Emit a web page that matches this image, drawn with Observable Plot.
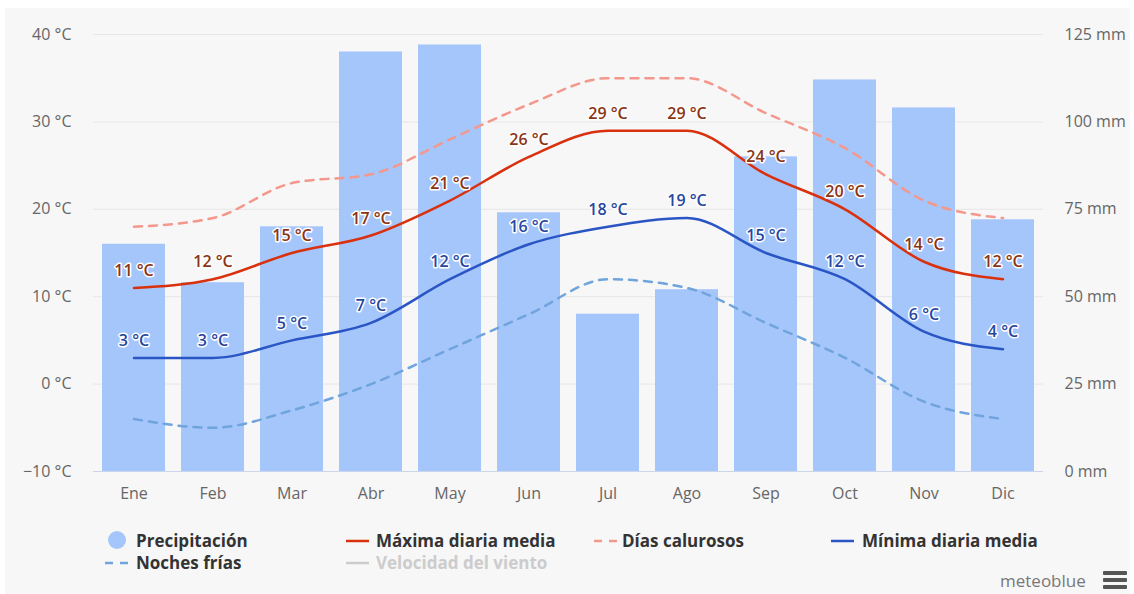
<!DOCTYPE html>
<html><head><meta charset="utf-8">
<script src="https://cdn.jsdelivr.net/npm/d3@7"></script>
<script src="https://cdn.jsdelivr.net/npm/@observablehq/plot@0.6"></script>
<style>
body{margin:0;background:#fff;font-family:"Open Sans","Noto Sans",sans-serif;}
#wrap{position:relative;width:1134px;height:594px;background:#fff;overflow:hidden}
#panel{position:absolute;left:5px;top:8px;width:1125px;height:586px;background:#f7f7f7}
#chart{position:absolute;left:0;top:0}
.lg{position:absolute;font-size:17px;font-weight:700;color:#333;line-height:20px;white-space:nowrap}
.sym{position:absolute}
#brand{position:absolute;left:1000px;top:570px;font-size:17px;color:#777;line-height:22px}
.hb{position:absolute;left:1103px;width:24px;height:4px;background:#555;border-radius:1px}
</style></head>
<body>
<div id="wrap">
  <div id="panel"></div>
  <div id="chart"></div>
  <div id="legend"></div>
  <div id="brand">meteoblue</div>
  <div class="hb" style="top:571px"></div>
  <div class="hb" style="top:578px"></div>
  <div class="hb" style="top:585px"></div>
</div>
<script>
const months = ["Ene","Feb","Mar","Abr","May","Jun","Jul","Ago","Sep","Oct","Nov","Dic"];
const precipitation = [65,54,70,120,122,74,45,52,90,112,104,72];   // mm
const maxTemp = [11,12,15,17,21,26,29,29,24,20,14,12];               // Máxima diaria media
const minTemp = [3,3,5,7,12,16,18,19,15,12,6,4];                      // Mínima diaria media
const hotDays = [18,19,23,24,28,32,35,35,31,27,21,19];                // Días calurosos
const coldNights = [-4,-5,-3,0,4,8,12,11,7,3,-2,-4];                  // Noches frías
const tempTicks = [-10,0,10,20,30,40];
const mmTicks = [0,25,50,75,100,125];

const data = months.map((m,i)=>({month:m, precip:precipitation[i], max:maxTemp[i], min:minTemp[i], hot:hotDays[i], cold:coldNights[i]}));
// map mm (0..125) onto the temperature scale (-10..40)
const mmToT = mm => -10 + mm * 50 / 125;
const tToMm = t => (t + 10) * 125 / 50;
const fmtT = d => (d < 0 ? "\u2212" + Math.abs(d) : d) + " °C";

const C = {bar:"#a5c6fb", max:"#d9300e", hot:"#f4978c", min:"#2a55c4", cold:"#6fa4dc",
           maxLbl:"#8a3414", minLbl:"#27479f"};

const chart = Plot.plot({
  width:1134, height:510,
  marginLeft:93, marginRight:91, marginTop:34, marginBottom:39,
  x:{domain:months, paddingInner:0.2, paddingOuter:0.1, axis:null},
  y:{domain:[-10,40], axis:null},
  style:{background:"transparent", fontFamily:"'Open Sans','Noto Sans',sans-serif"},
  marks:[
    Plot.ruleY(tempTicks, {stroke:"#e6e6e6", strokeWidth:1}),
    Plot.barY(data, {x:"month", y1:-10, y2:d=>mmToT(d.precip), fill:C.bar}),
    Plot.ruleY([-10], {stroke:"#ccd6eb", strokeWidth:1}),
    Plot.line(data, {x:"month", y:"hot", stroke:C.hot, strokeWidth:2.5, strokeDasharray:"8,7", curve:"monotone-x"}),
    Plot.line(data, {x:"month", y:"cold", stroke:C.cold, strokeWidth:2.5, strokeDasharray:"8,7", curve:"monotone-x"}),
    Plot.line(data, {x:"month", y:"max", stroke:C.max, strokeWidth:2.5, curve:"monotone-x"}),
    Plot.line(data, {x:"month", y:"min", stroke:C.min, strokeWidth:2.5, curve:"monotone-x"}),
    Plot.text(data, {x:"month", y:"max", text:d=>fmtT(d.max), dy:-17, fill:C.maxLbl, stroke:"white", strokeWidth:3, strokeLinejoin:"round", paintOrder:"stroke", fontSize:16, fontWeight:600}),
    Plot.text(data, {x:"month", y:"min", text:d=>fmtT(d.min), dy:-17, fill:C.minLbl, stroke:"white", strokeWidth:3, strokeLinejoin:"round", paintOrder:"stroke", fontSize:16, fontWeight:600}),
    Plot.axisY({anchor:"left", ticks:tempTicks, tickFormat:fmtT, tickSize:0, tickPadding:22, fontSize:16, color:"#666", label:null}),
    Plot.axisY({anchor:"right", ticks:mmTicks.map(mmToT), tickFormat:d=>Math.round(tToMm(d)) + " mm", tickSize:0, tickPadding:21, fontSize:16, color:"#666", label:null}),
    Plot.axisX({tickSize:0, tickPadding:16, fontSize:16, color:"#666", label:null})
  ]
});
document.getElementById("chart").appendChild(chart);

// legend
const legendItems = [
  {name:"Precipitación", type:"circle", color:C.bar, sx:107, tx:136, y:541},
  {name:"Máxima diaria media", type:"line", color:C.max, sx:346, tx:376, y:541},
  {name:"Días calurosos", type:"dash", color:C.hot, sx:594, tx:622, y:541},
  {name:"Mínima diaria media", type:"line", color:C.min, sx:831, tx:862, y:541},
  {name:"Noches frías", type:"dash", color:C.cold, sx:105, tx:136, y:563},
  {name:"Velocidad del viento", type:"line", color:"#cccccc", sx:346, tx:376, y:563, muted:true}
];
const lg = document.getElementById("legend");
for (const it of legendItems) {
  const s = document.createElementNS("http://www.w3.org/2000/svg","svg");
  s.setAttribute("class","sym");
  s.setAttribute("width", 24); s.setAttribute("height", 20);
  s.style.left = it.sx + "px"; s.style.top = (it.y - 10) + "px";
  if (it.type === "circle") {
    s.innerHTML = `<circle cx="10" cy="9" r="9" fill="${it.color}"/>`;
  } else if (it.type === "line") {
    s.innerHTML = `<line x1="0" x2="23" y1="10" y2="10" stroke="${it.color}" stroke-width="2.5"/>`;
  } else {
    s.innerHTML = `<line x1="0" x2="23" y1="10" y2="10" stroke="${it.color}" stroke-width="2.5" stroke-dasharray="8,7"/>`;
  }
  lg.appendChild(s);
  const t = document.createElement("div");
  t.className = "lg";
  t.textContent = it.name;
  t.style.left = it.tx + "px"; t.style.top = (it.y - 10) + "px";
  if (it.muted) t.style.color = "#cccccc";
  lg.appendChild(t);
}
</script>
</body></html>
